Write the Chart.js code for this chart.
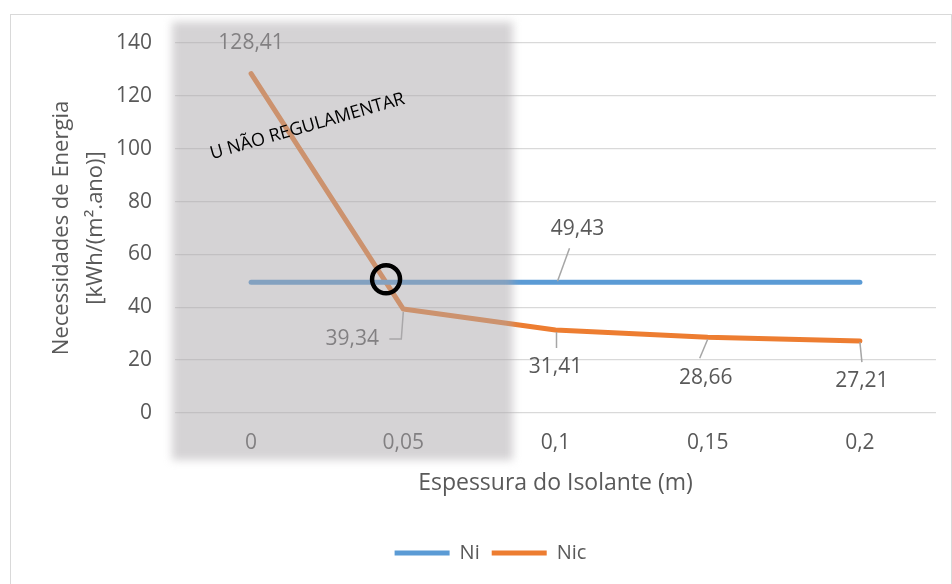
<!DOCTYPE html>
<html>
<head>
<meta charset="utf-8">
<script src="https://cdn.jsdelivr.net/npm/chart.js@4.4.1/dist/chart.umd.min.js"></script>
<style>
  html, body { margin: 0; padding: 0; background: #fff; }
  #box { position: absolute; left: 10px; top: 14px; width: 940px; height: 570px; border: 1px solid #d9d9d9; }
</style>
</head>
<body>
<div id="box"><canvas id="chart"></canvas></div>
<script>
const categories = ["0", "0,05", "0,1", "0,15", "0,2"];
const niValues = [49.43, 49.43, 49.43, 49.43, 49.43];
const nicValues = [128.41, 39.34, 31.41, 28.66, 27.21];
const yMin = 0;
const yMax = 140;
const yStep = 20;

// where each value label sits relative to its point, with its leader line
const labelSpots = [
  { ds: 1, i: 0, dx: 0, dy: -31, leader: null },
  { ds: 1, i: 1, dx: -51, dy: 30, leader: [[0, 3], [-2, 30], [-14, 30]] },
  { ds: 1, i: 2, dx: 0, dy: 37, leader: [[1, 2], [1, 18]] },
  { ds: 1, i: 3, dx: -2, dy: 41, leader: [[0, 2], [-8, 21]] },
  { ds: 1, i: 4, dx: 2, dy: 40, leader: [[0, 1], [2, 21]] },
  { ds: 0, i: 2, dx: 22, dy: -53, leader: [[2, -1], [14, -34]] },
];

const fmt = (v) => v.toFixed(2).replace(".", ",");

Chart.defaults.font.family = "'Open Sans', sans-serif";
Chart.defaults.color = "#595959";

const valueLabels = {
  id: "valueLabels",
  afterDatasetsDraw(chart) {
    const ctx = chart.ctx;
    ctx.save();
    labelSpots.forEach((s) => {
      const pt = chart.getDatasetMeta(s.ds).data[s.i];
      const v = chart.data.datasets[s.ds].data[s.i];
      if (s.leader) {
        ctx.strokeStyle = "#a6a6a6";
        ctx.lineWidth = 1.5;
        ctx.beginPath();
        s.leader.forEach((p, k) => {
          if (k === 0) ctx.moveTo(pt.x + p[0], pt.y + p[1]);
          else ctx.lineTo(pt.x + p[0], pt.y + p[1]);
        });
        ctx.stroke();
      }
      ctx.fillStyle = "#595959";
      ctx.font = "21px 'Open Sans', sans-serif";
      ctx.textAlign = "center";
      ctx.textBaseline = "middle";
      ctx.fillText(fmt(v), pt.x + s.dx, pt.y + s.dy);
    });
    ctx.restore();
  },
};

// gray "not regulated" zone, marker circle and its note
const shade = {
  id: "shade",
  afterLayout(chart) {
    // legend sits a bit right of centre in the original
    chart.legend.left += 17;
    chart.legend.right += 17;
  },
  afterDraw(chart) {
    const { ctx, chartArea, scales } = chart;
    const x = scales.x;
    const y = scales.y;
    const left = chartArea.left - 3;
    const right = x.getPixelForValue(1.72);
    const top = y.getPixelForValue(148);
    const bottom = chartArea.bottom + 47;
    ctx.save();
    ctx.filter = "blur(4px)";
    ctx.fillStyle = "rgba(172,168,172,0.5)";
    ctx.fillRect(left, top, right - left, bottom - top);
    ctx.restore();

    // crossing point of Ni and Nic
    const t = (nicValues[0] - niValues[0]) / (nicValues[0] - nicValues[1]);
    ctx.save();
    ctx.strokeStyle = "#000";
    ctx.lineWidth = 4.5;
    ctx.beginPath();
    ctx.arc(x.getPixelForValue(t), y.getPixelForValue(niValues[0]) - 3, 14, 0, Math.PI * 2);
    ctx.stroke();

    ctx.translate(x.getPixelForValue(0.37), y.getPixelForValue(108.4));
    ctx.rotate((-16 * Math.PI) / 180);
    ctx.fillStyle = "#000";
    ctx.font = "18px 'Open Sans', sans-serif";
    ctx.textAlign = "center";
    ctx.textBaseline = "middle";
    ctx.fillText("U NÃO REGULAMENTAR", 0, 0);
    ctx.restore();
  },
};

new Chart(document.getElementById("chart"), {
  type: "line",
  data: {
    labels: categories,
    datasets: [
      {
        label: "Ni",
        data: niValues,
        borderColor: "#5b9bd5",
        backgroundColor: "#5b9bd5",
        borderWidth: 5,
        borderCapStyle: "round",
        borderJoinStyle: "round",
        pointRadius: 0,
        tension: 0,
      },
      {
        label: "Nic",
        data: nicValues,
        borderColor: "#ed7d31",
        backgroundColor: "#ed7d31",
        borderWidth: 5,
        borderCapStyle: "round",
        borderJoinStyle: "round",
        pointRadius: 0,
        tension: 0,
      },
    ],
  },
  options: {
    responsive: true,
    maintainAspectRatio: false,
    animation: false,
    layout: { padding: { left: 0, right: 15, top: 28, bottom: 12 } },
    plugins: {
      tooltip: { enabled: false },
      legend: {
        position: "bottom",
        labels: {
          usePointStyle: true,
          pointStyle: "line",
          pointStyleWidth: 55,
          padding: 12,
          color: "#595959",
          font: { size: 20 },
        },
      },
    },
    scales: {
      x: {
        offset: true,
        grid: { display: false, offset: true },
        border: { display: false },
        ticks: { padding: 9, font: { size: 21 }, color: "#595959" },
        title: {
          display: true,
          text: "Espessura do Isolante (m)",
          font: { size: 23 },
          color: "#595959",
          padding: { top: 0, bottom: 34 },
        },
        afterFit: (s) => { s.height = 118; },
      },
      y: {
        min: yMin,
        max: yMax,
        ticks: { stepSize: yStep, padding: 0, font: { size: 21 }, color: "#595959" },
        grid: { color: "#d9d9d9", lineWidth: 1.3, drawTicks: true, tickLength: 23, tickColor: "rgba(0,0,0,0)" },
        border: { display: false },
        title: {
          display: true,
          text: ["Necessidades de Energia", "[kWh/(m\u00b2.ano)]"],
          font: { size: 22, lineHeight: 1.55 },
          color: "#595959",
          padding: { top: 34, bottom: 0 },
        },
        afterFit: (s) => { s.width = 164; },
      },
    },
  },
  plugins: [valueLabels, shade],
});
</script>
</body>
</html>
